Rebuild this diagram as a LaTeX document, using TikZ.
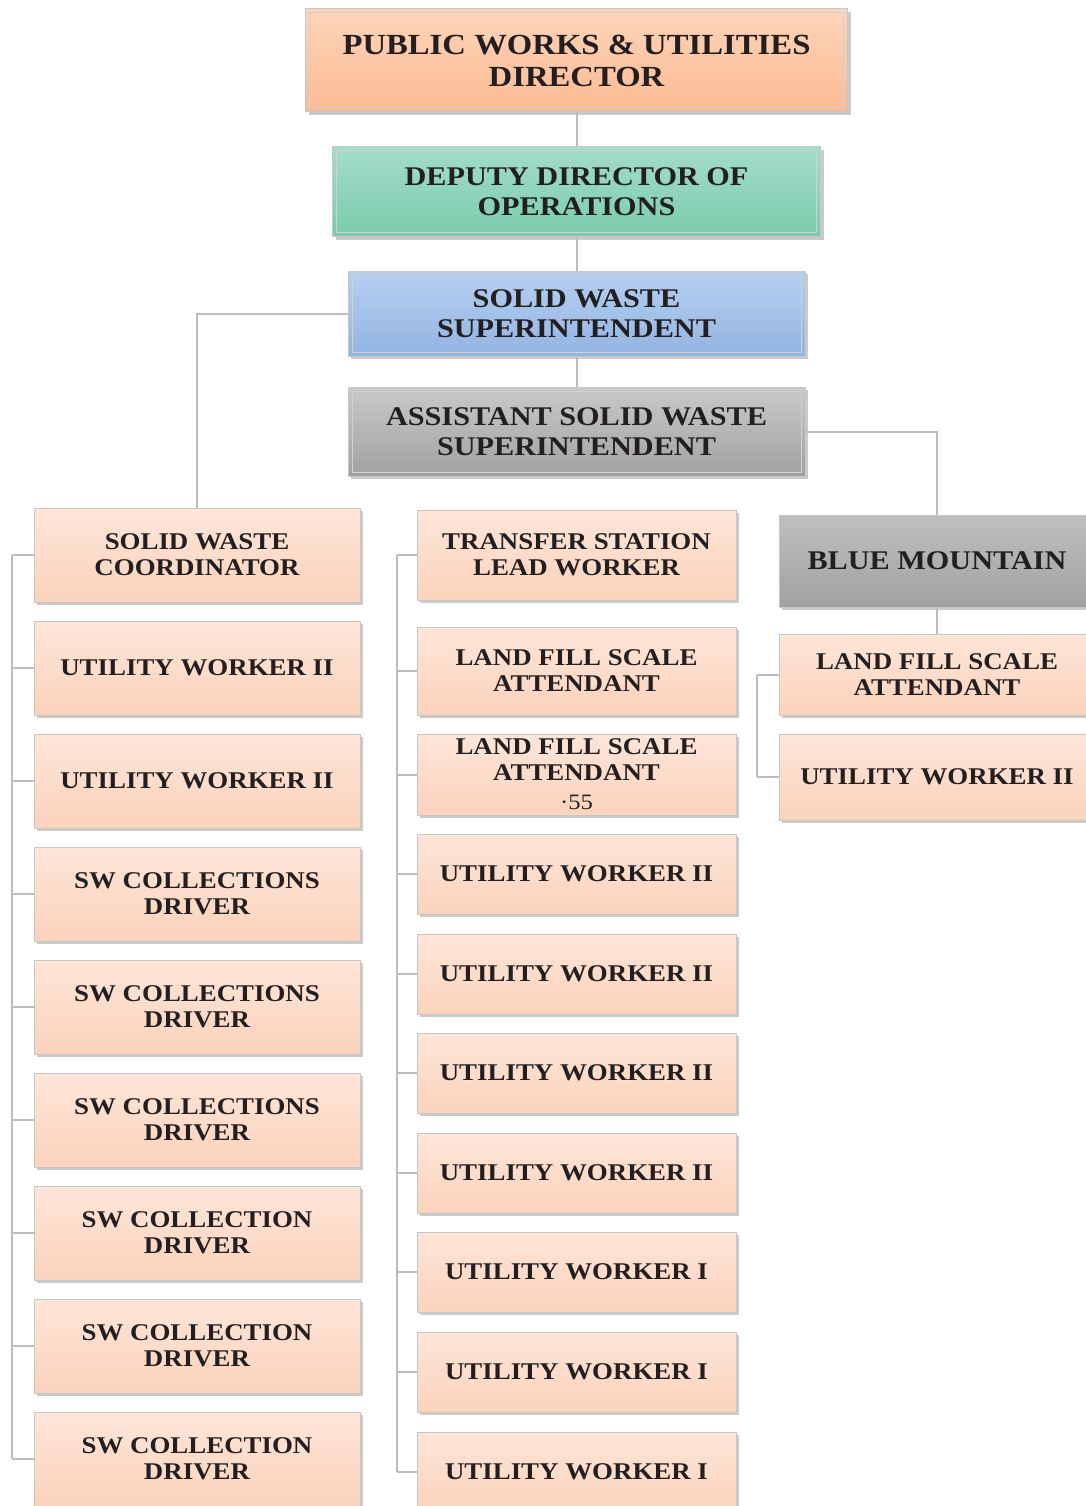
\documentclass[tikz,border=0pt]{standalone}
\usepackage{fontspec}
\setmainfont{Liberation Serif}[FakeStretch=1.12]
\usetikzlibrary{shadows}

\definecolor{linkgray}{HTML}{BDBDBD}
\definecolor{inktext}{HTML}{231F20}
\definecolor{dirtop}{HTML}{FDD4B9}
\definecolor{dirbot}{HTML}{FBBB93}
\definecolor{deptop}{HTML}{A3DDCA}
\definecolor{depbot}{HTML}{7BCBAC}
\definecolor{supttop}{HTML}{B6CFF0}
\definecolor{suptbot}{HTML}{92B4E3}
\definecolor{asstop}{HTML}{C9C9C9}
\definecolor{assbot}{HTML}{A1A1A1}
\definecolor{peachtop}{HTML}{FDE5D8}
\definecolor{peachbot}{HTML}{FBD3BC}

\tikzset{
  post/.style={rectangle, draw=black!22, line width=1pt, inner sep=0pt,
    align=center, text=inktext,
    drop shadow={shadow xshift=3pt, shadow yshift=-3pt, fill=black!35, opacity=0.6}},
  inset/.style={path picture={\draw[black!18, line width=1pt]
    ([shift={(4pt,-4pt)}]path picture bounding box.north west) rectangle
    ([shift={(-4pt,4pt)}]path picture bounding box.south east);}},
  headbox/.style={post, inset, font=\fontsize{27}{30}\selectfont\bfseries},
  peach/.style={post, top color=peachtop, bottom color=peachbot,
    font=\fontsize{24}{26}\selectfont\bfseries},
  link/.style={draw=linkgray, line width=2pt},
}

\begin{document}
\begin{tikzpicture}[x=1pt, y=-1pt]
      \useasboundingbox (0,0) rectangle (1086,1506);
      \clip (0,0) rectangle (1086,1506);

      % chain of command
      \node [headbox, top color=dirtop, bottom color=dirbot, minimum width=542pt, minimum height=103pt,
        font=\fontsize{29.2}{32}\selectfont\bfseries] (dir) at (576.5,60.5) {PUBLIC WORKS \& UTILITIES\\DIRECTOR};
      \node [headbox, top color=deptop, bottom color=depbot, minimum width=488pt, minimum height=90pt] (dep)
        at (576.5,192) {DEPUTY DIRECTOR OF\\OPERATIONS};
      \node [headbox, top color=supttop, bottom color=suptbot, minimum width=457pt, minimum height=85pt] (sup)
        at (576.5,313.5) {SOLID WASTE\\SUPERINTENDENT};
      \node [headbox, top color=asstop, bottom color=assbot, minimum width=457pt, minimum height=89pt] (asst)
        at (576.5,431.5) {ASSISTANT SOLID WASTE\\SUPERINTENDENT};
      \node [post, top color=asstop!95!black, bottom color=assbot, minimum width=316pt, minimum height=92pt,
        font=\fontsize{27}{30}\selectfont\bfseries] (blue) at (937,561) {BLUE MOUNTAIN};

      % collections crew
      \foreach \i/\yc/\txt in {1/555/{SOLID WASTE\\COORDINATOR}, 2/668/{UTILITY WORKER II},
          3/781/{UTILITY WORKER II}, 4/894/{SW COLLECTIONS\\DRIVER}, 5/1007/{SW COLLECTIONS\\DRIVER},
          6/1120/{SW COLLECTIONS\\DRIVER}, 7/1233/{SW COLLECTION\\DRIVER}, 8/1346/{SW COLLECTION\\DRIVER},
          9/1459/{SW COLLECTION\\DRIVER}}
        \node [peach, minimum width=326pt, minimum height=94pt] (l\i) at (197,\yc) {\txt};

      % transfer station crew
      \foreach \i/\yc/\boxh/\txt in {1/555/90/{TRANSFER STATION\\LEAD WORKER}, 2/671/88/{LAND FILL SCALE\\ATTENDANT},
          3/774.5/81/{LAND FILL SCALE\\ATTENDANT\\[3pt]{\mdseries\fontsize{22}{22}\selectfont ·55}},
          4/874/80/{UTILITY WORKER II}, 5/974/80/{UTILITY WORKER II}, 6/1073/80/{UTILITY WORKER II},
          7/1173/80/{UTILITY WORKER II}, 8/1272/80/{UTILITY WORKER I}, 9/1372/80/{UTILITY WORKER I},
          10/1472/80/{UTILITY WORKER I}}
        \node [peach, minimum width=319pt, minimum height=\boxh pt] (m\i) at (576.5,\yc) {\txt};

      % blue mountain crew
      \node [peach, minimum width=316pt, minimum height=81pt] (r1) at (937,674.5) {LAND FILL SCALE\\ATTENDANT};
      \node [peach, minimum width=316pt, minimum height=86pt] (r2) at (937,777) {UTILITY WORKER II};

      \draw [link] (dir) -- (dep);
      \draw [link] (dep) -- (sup);
      \draw [link] (sup) -- (asst);
      \draw [link] (sup.west) -| (l1.north);
      \draw [link] (asst.east) -| (blue.north);
      \draw [link] (blue) -- (r1);

      \coordinate (lbus) at (12,555);
      \draw [link] (lbus) -- (lbus |- l9.west);
      \foreach \i in {1,...,9} \draw [link] (lbus |- l\i.west) -- (l\i.west);

      \coordinate (mbus) at (397,555);
      \draw [link] (mbus) -- (mbus |- m10.west);
      \foreach \i in {1,...,10} \draw [link] (mbus |- m\i.west) -- (m\i.west);

      \coordinate (rbus) at (757,674.5);
      \draw [link] (rbus) -- (rbus |- r2.west);
      \foreach \i in {1,2} \draw [link] (rbus |- r\i.west) -- (r\i.west);
\end{tikzpicture}
\end{document}
